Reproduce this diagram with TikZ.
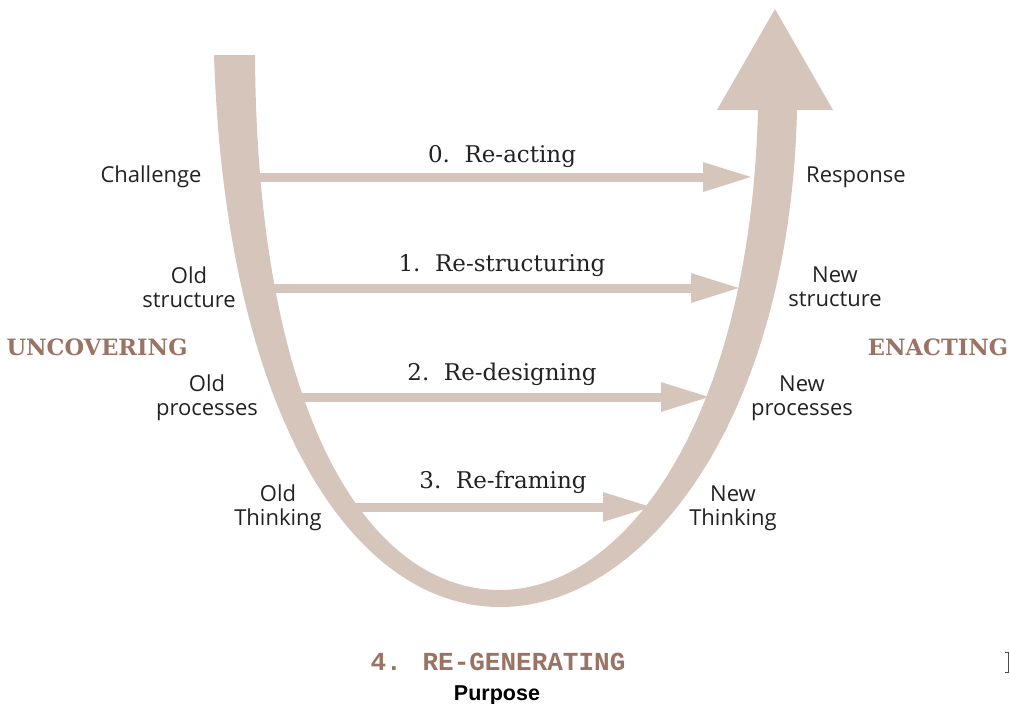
\documentclass[tikz,border=0pt]{standalone}
\usepackage{fontspec}
\setmainfont{Open Sans}
\newfontfamily\stepserif{DejaVu Serif}
\newfontfamily\regenfont{Liberation Mono}
\newfontfamily\purposefont{Liberation Sans}
\usetikzlibrary{arrows.meta}
\definecolor{ushape}{HTML}{D6C5BA}
\definecolor{phase}{HTML}{9A7363}
\definecolor{ink}{HTML}{222222}

\begin{document}
\begin{tikzpicture}[x=1pt,y=-1pt,inner sep=0pt,outer sep=0pt,
sidelbl/.style={align=center,text=ink,font=\fontsize{22}{24}\selectfont},
steplbl/.style={anchor=base,text=ink,font=\stepserif\fontsize{23}{26}\selectfont},
phaselbl/.style={anchor=base,text=phase,font=\stepserif\bfseries\fontsize{22.5}{26}\selectfont},
turn/.style={draw=ushape,line width=9pt,-{Triangle[length=50pt,width=27pt]}}]
\useasboundingbox (0,0) rectangle (1010,704);
% U-curve with its head
\fill[ushape] (214,55) -- (255,55) .. controls (257,420) and (370,590) .. (500,590)
  .. controls (625,590) and (750,420) .. (758,110) -- (717,110) -- (775,9) -- (833,110) -- (797,110)
  .. controls (790,420) and (645,607) .. (500,607) .. controls (355,607) and (226,420) .. (214,55) -- cycle;
% ends of the four shifts
\coordinate (from0) at (245,177); \coordinate (to0) at (753,177);
\coordinate (from1) at (258,288); \coordinate (to1) at (741,288);
\coordinate (from2) at (287,397); \coordinate (to2) at (711,397);
\coordinate (from3) at (340,507); \coordinate (to3) at (653,507);
\draw[turn] (from0) -- (to0);
\draw[turn] (from1) -- (to1);
\draw[turn] (from2) -- (to2);
\draw[turn] (from3) -- (to3);
\draw (502,162) node[steplbl] (s0) {0.\ \ Re-acting};
\draw (502,271) node[steplbl] (s1) {1.\ \ Re-structuring};
\draw (502,380) node[steplbl] (s2) {2.\ \ Re-designing};
\draw (503,488) node[steplbl] (s3) {3.\ \ Re-framing};
% left side
\draw (151,177) node[sidelbl] (challenge) {Challenge};
\draw (189,287) node[sidelbl] (oldstr) {Old\\structure};
\draw (207,398) node[sidelbl] (oldproc) {Old\\processes};
\draw (278,508) node[sidelbl] (oldthink) {Old\\Thinking};
% right side
\draw (856,177) node[sidelbl] (response) {Response};
\draw (835,287) node[sidelbl] (newstr) {New\\structure};
\draw (802,398) node[sidelbl] (newproc) {New\\processes};
\draw (733,508) node[sidelbl] (newthink) {New\\Thinking};
\draw (97,355) node[phaselbl] (uncover) {UNCOVERING};
\draw (938,355) node[phaselbl] (enact) {ENACTING};
\draw (498,670) node[anchor=base,text=phase,font=\regenfont\bfseries\fontsize{26}{28}\selectfont] (regen) {4. RE-GENERATING};
\draw (497,700) node[anchor=base,text=black,font=\purposefont\bfseries\fontsize{21.5}{24}\selectfont] (purpose) {Purpose};
\draw[black!70,line width=1pt] (1005,652) -- (1008,652) -- (1008,672) -- (1005,672);
\end{tikzpicture}
\end{document}
